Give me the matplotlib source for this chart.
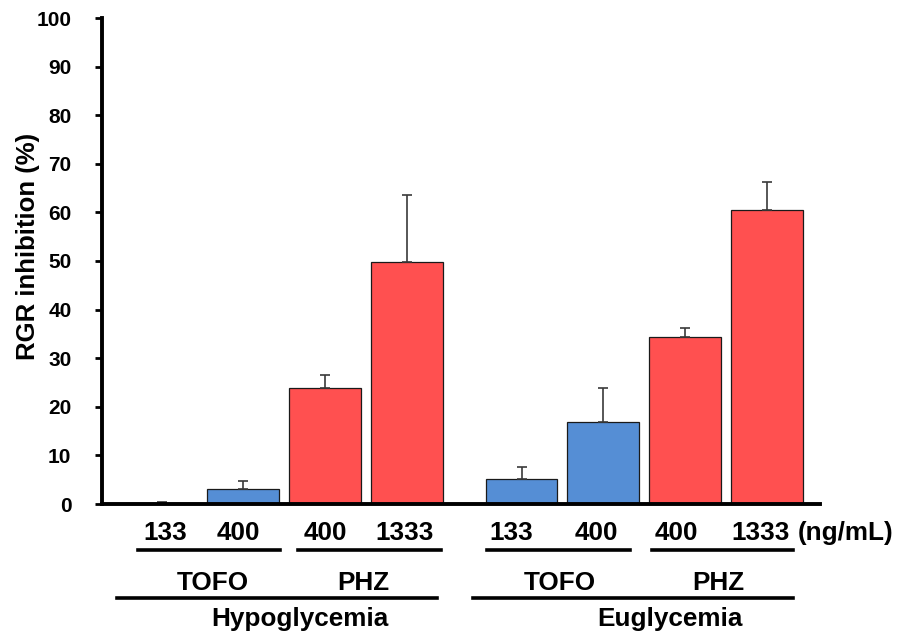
import matplotlib
matplotlib.use("Agg")
import matplotlib.pyplot as plt

# ---- data ----
conditions = ["Hypoglycemia", "Euglycemia"]
drugs = ["TOFO", "TOFO", "PHZ", "PHZ", "TOFO", "TOFO", "PHZ", "PHZ"]
dose_labels = ["133", "400", "400", "1333", "133", "400", "400", "1333"]
values = [0.3, 3.0, 23.9, 49.7, 5.1, 16.9, 34.4, 60.5]
errors = [0.2, 1.7, 2.6, 13.8, 2.5, 7.0, 1.8, 5.8]
unit_label = "(ng/mL)"
y_label = "RGR inhibition (%)"
y_ticks = [0, 10, 20, 30, 40, 50, 60, 70, 80, 90, 100]

# ---- layout / style ----
W, H, DPI = 910, 638, 100
color_map = {"TOFO": "#558ED5", "PHZ": "#FF5050"}
positions = [0, 1, 2, 3, 4.4, 5.4, 6.4, 7.4]
bar_w = 0.88
FONT = "Liberation Sans"
FS = 18.8

fig = plt.figure(figsize=(W / DPI, H / DPI), dpi=DPI)
ax_l, ax_r, ax_t, ax_b = 102, 820, 18, 504
ax = fig.add_axes([ax_l / W, 1 - ax_b / H, (ax_r - ax_l) / W, (ax_b - ax_t) / H])

colors = [color_map[d] for d in drugs]
ax.bar(positions, values, width=bar_w, color=colors, edgecolor="#1a1a1a",
       linewidth=0.9, zorder=2)
ax.errorbar(positions, values, yerr=[[0] * len(errors), errors], fmt="none",
            ecolor="#3a3a3a", elinewidth=1.2, capsize=3.5, capthick=1.2, zorder=3)

ax.set_xlim(-0.73, 8.05)
ax.set_ylim(0, 100)
ax.set_yticks(y_ticks)
ax.set_yticklabels([str(t) for t in y_ticks], fontfamily=FONT,
                   fontweight="bold", fontsize=15)
ax.tick_params(axis="y", direction="out", length=5, width=2, pad=17)
ax.set_xticks([])
for s in ["top", "right"]:
    ax.spines[s].set_visible(False)
for s in ["left", "bottom"]:
    ax.spines[s].set_linewidth(2.8)
ax.spines["bottom"].set_zorder(4)

fig.text(28 / W, 1 - 246 / H, y_label, rotation=90, ha="center", va="center",
         fontfamily=FONT, fontweight="bold", fontsize=18.5)

def fy(py):
    return 1 - py / H

# dose labels
dose_offsets = [4, -5, 0, -2, -10, -7, -9, -6]
for p, lab, off in zip(positions, dose_labels, dose_offsets):
    x = ax.transData.transform((p, 0))[0] + off
    fig.text(x / W, fy(540), lab, ha="center", va="baseline",
             fontfamily=FONT, fontweight="bold", fontsize=FS)
fig.text(798 / W, fy(540), unit_label, ha="left", va="baseline",
         fontfamily=FONT, fontweight="bold", fontsize=FS)

# drug group lines and labels
drug_groups = [("TOFO", 138, 280, 213), ("PHZ", 298, 441, 363),
               ("TOFO", 487, 630, 560), ("PHZ", 652, 793, 718)]
for name, x0, x1, xc in drug_groups:
    fig.add_artist(plt.Line2D([x0 / W, x1 / W], [fy(550), fy(550)],
                              color="black", linewidth=2.6))
    fig.text(xc / W, fy(590), name, ha="center", va="baseline",
             fontfamily=FONT, fontweight="bold", fontsize=FS)

cond_groups = [(117, 437, 300), (473, 793, 670)]
for name, (x0, x1, xc) in zip(conditions, cond_groups):
    fig.add_artist(plt.Line2D([x0 / W, x1 / W], [fy(597.5), fy(597.5)],
                              color="black", linewidth=2.6))
    fig.text(xc / W, fy(626), name, ha="center", va="baseline",
             fontfamily=FONT, fontweight="bold", fontsize=FS)

fig.savefig("out.png", dpi=DPI)
